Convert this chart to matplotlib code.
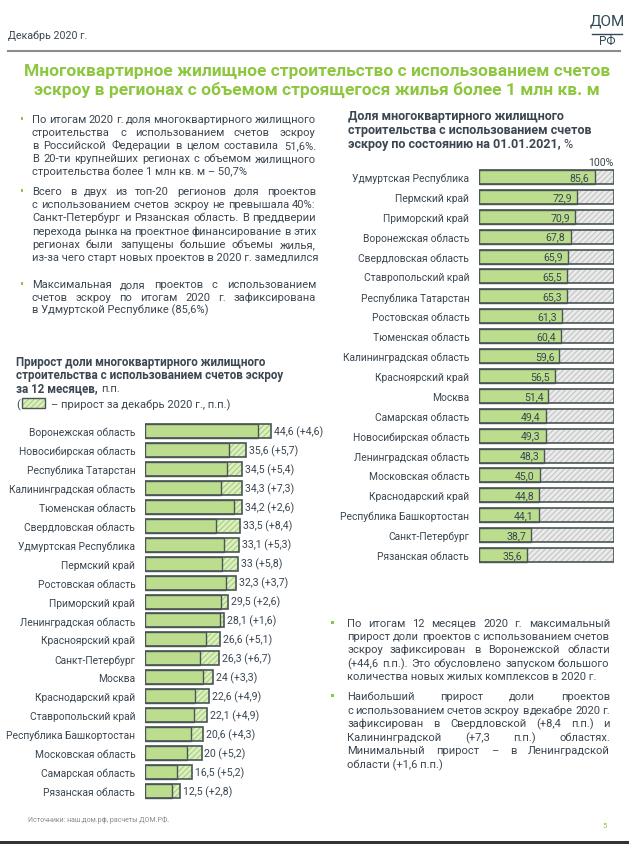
import matplotlib as m
m.use("Agg")
import matplotlib.pyplot as plt
from matplotlib.patches import Rectangle

plt.rcParams['font.family'] = ['Roboto', 'DejaVu Sans']
plt.rcParams['hatch.linewidth'] = 0.8

# share of escrow construction on 01.01.2021, %
share_regions = ["Удмуртская Республика", "Пермский край", "Приморский край",
                 "Воронежская область", "Свердловская область", "Ставропольский край",
                 "Республика Татарстан", "Ростовская область", "Тюменская область",
                 "Калининградская область", "Красноярский край", "Москва",
                 "Самарская область", "Новосибирская область", "Ленинградская область",
                 "Московская область", "Краснодарский край", "Республика Башкортостан",
                 "Санкт-Петербург", "Рязанская область"]
share = [85.6, 72.9, 70.9, 67.8, 65.9, 65.5, 65.3, 61.3, 60.4, 59.6,
         56.5, 51.4, 49.4, 49.3, 48.3, 45.0, 44.8, 44.1, 38.7, 35.6]

# growth over 12 months, p.p. and december part
growth_regions = ["Воронежская область", "Новосибирская область", "Республика Татарстан",
                  "Калининградская область", "Тюменская область", "Свердловская область",
                  "Удмуртская Республика", "Пермский край", "Ростовская область",
                  "Приморский край", "Ленинградская область", "Красноярский край",
                  "Санкт-Петербург", "Москва", "Краснодарский край", "Ставропольский край",
                  "Республика Башкортостан", "Московская область", "Самарская область",
                  "Рязанская область"]
growth = [44.6, 35.6, 34.5, 34.3, 34.2, 33.5, 33.1, 33, 32.3, 29.5,
          28.1, 26.6, 26.3, 24, 22.6, 22.1, 20.6, 20, 16.5, 12.5]
growth_dec = [4.6, 5.7, 5.4, 7.3, 2.6, 8.4, 5.3, 5.8, 3.7, 2.6,
              1.6, 5.1, 6.7, 3.3, 4.9, 4.9, 4.3, 5.2, 5.2, 2.8]

W, H = 629, 845
GREEN = '#8dc63f'
BAR = '#bcdd8e'
EDGE = '#4a5656'
TXT = '#3b4650'
FS = 8.0     # bullet text
LS = 7.4     # category labels
VS = 7.6     # value labels

fig = plt.figure(figsize=(W / 100, H / 100), dpi=100)
renderer = fig.canvas.get_renderer()


def fx(px):
    return px / W


def fy(py):
    return 1 - py / H


def ftext(x, y, s, fontsize=FS, **kw):
    # y is the visual middle of the line; draw on the (whole pixel) baseline below it
    kw.setdefault('color', TXT)
    yb = round(y + 0.36 * fontsize * 100 / 72)
    return fig.text(fx(x), fy(yb), s, fontsize=fontsize, va='baseline', **kw)


def width(t):
    return t.get_window_extent(renderer).width


def para(lines, x0, x1, y0, dy, size, bx):
    fig.patches.append(Rectangle((fx(bx - 1.5), fy(y0 + 1.5)), 3 / W, 3 / H,
                                 transform=fig.transFigure, color=GREEN, lw=0))
    for i, line in enumerate(lines):
        y = y0 + i * dy
        if i == len(lines) - 1:
            ftext(x0, y, line, fontsize=size)
            continue
        # justified line: place word by word
        words = line.split()
        ts = [ftext(0, y, w, fontsize=size) for w in words]
        ws = [width(t) for t in ts]
        gap = (x1 - x0 - sum(ws)) / (len(words) - 1)
        x = x0
        for t, w in zip(ts, ws):
            t.set_x(fx(round(x)))
            x += w + gap


# header
ftext(8, 35, "Декабрь 2020 г.", fontsize=7.7)
fig.add_artist(plt.Line2D([fx(8), fx(620)], [fy(52), fy(52)], color='#8c8c8c', lw=1.5))
ftext(607, 21, "ДОМ", fontsize=11, ha='center', color='#2f4b55')
fig.add_artist(plt.Line2D([fx(592), fx(622)], [fy(35), fy(35)], color='#2f4b55', lw=1))
ftext(607, 41, "РФ", fontsize=8.5, ha='center', color='#2f4b55')
ftext(317, 70, "Многоквартирное жилищное строительство с использованием счетов",
      fontsize=12.5, ha='center', color=GREEN, fontweight='bold')
ftext(317, 89, "эскроу в регионах с объемом строящегося жилья более 1 млн кв. м",
      fontsize=12.5, ha='center', color=GREEN, fontweight='bold')

# left bullets
para(["По итогам 2020 г. доля многоквартирного жилищного",
      "строительства с использованием счетов эскроу",
      "в Российской Федерации в целом составила 51,6%.",
      "В 20-ти крупнейших регионах с объемом жилищного",
      "строительства более 1 млн кв. м – 50,7%"], 32, 316, 119, 12.9, FS, 22)
para(["Всего в двух из топ-20 регионов доля проектов",
      "с использованием счетов эскроу не превышала 40%:",
      "Санкт-Петербург и Рязанская область. В преддверии",
      "перехода рынка на проектное финансирование в этих",
      "регионах были запущены большие объемы жилья,",
      "из-за чего старт новых проектов в 2020 г. замедлился"], 32, 316, 191, 13.2, FS, 22)
para(["Максимальная доля проектов с использованием",
      "счетов эскроу по итогам 2020 г. зафиксирована",
      "в Удмуртской Республике (85,6%)"], 32, 316, 284, 12.6, FS, 22)

# right bullets
para(["По итогам 12 месяцев 2020 г. максимальный",
      "прирост доли проектов с использованием счетов",
      "эскроу зафиксирован в Воронежской области",
      "(+44,6 п.п.). Это обусловлено запуском большого",
      "количества новых жилых комплексов в 2020 г."], 347, 610, 623, 13.2, FS, 332)
para(["Наибольший прирост доли проектов",
      "с использованием счетов эскроу в декабре 2020 г.",
      "зафиксирован в Свердловской (+8,4 п.п.) и",
      "Калининградской (+7,3 п.п.) областях.",
      "Минимальный прирост – в Ленинградской",
      "области (+1,6 п.п.)"], 347, 610, 696, 13.6, FS, 332)

# right chart title
RT = 9.0
ftext(348, 116, "Доля многоквартирного жилищного", fontsize=RT, fontweight='bold')
ftext(348, 130, "строительства с использованием счетов", fontsize=RT, fontweight='bold')
t = ftext(348, 143, "эскроу по состоянию на 01.01.2021,", fontsize=RT, fontweight='bold')
ftext(348 + width(t) + 3, 143, "%", fontsize=RT)
ftext(614, 162, "100%", fontsize=VS, ha='right')

# right chart
ax1 = fig.add_axes([fx(479), fy(566), 135 / W, 398 / H])
ys = range(len(share))
rest = [100 - v for v in share]
ax1.barh(ys, rest, left=share, height=0.7, color='#ebebeb', edgecolor='#c4c4c4',
         lw=0, hatch='//////')
ax1.barh(ys, share, height=0.7, color=BAR, edgecolor=EDGE, lw=1)
ax1.barh(ys, [100] * len(share), height=0.7, fill=False, edgecolor=EDGE, lw=1.2)
shift_l = m.transforms.ScaledTranslation(-5 / 100, 0, fig.dpi_scale_trans)
for y, v in zip(ys, share):
    ax1.text(v, y, f"{v:.1f}".replace('.', ','), ha='right', va='center',
             fontsize=VS, color=TXT, transform=ax1.transData + shift_l)
ax1.set_xlim(0, 100)
ax1.set_ylim(19.5, -0.5)
ax1.set_yticks(list(ys))
ax1.set_yticklabels(share_regions, fontsize=LS, color=TXT)
ax1.tick_params(axis='y', length=0, pad=7)
ax1.set_xticks([])
for s in ax1.spines.values():
    s.set_visible(False)

# left chart title
LT = 8.4
ftext(16, 362, "Прирост доли многоквартирного жилищного", fontsize=LT, fontweight='bold')
ftext(16, 375, "строительства с использованием счетов эскроу", fontsize=LT, fontweight='bold')
t = ftext(16, 388, "за 12 месяцев,", fontsize=LT, fontweight='bold')
ftext(16 + width(t) + 3, 388, "п.п.", fontsize=FS)
ftext(16, 404, "(", fontsize=FS)
fig.patches.append(Rectangle((fx(22), fy(409)), 23 / W, 10 / H, transform=fig.transFigure,
                             facecolor='#dcefc0', edgecolor='#a8cf78', lw=0, hatch='//////'))
fig.patches.append(Rectangle((fx(22), fy(409)), 23 / W, 10 / H, transform=fig.transFigure,
                             fill=False, edgecolor=EDGE, lw=1))
ftext(51, 404, "– прирост за декабрь 2020 г., п.п.)", fontsize=FS)

# left chart
ax2 = fig.add_axes([fx(145), fy(801.5), 141.25 / W, 379 / H])
ys = range(len(growth))
base = [g - d for g, d in zip(growth, growth_dec)]
ax2.barh(ys, growth_dec, left=base, height=0.74, color='#dcefc0', edgecolor='#a8cf78',
         lw=0, hatch='//////')
ax2.barh(ys, base, height=0.74, color=BAR, edgecolor=EDGE, lw=1)
ax2.barh(ys, growth, height=0.74, fill=False, edgecolor=EDGE, lw=1.2)
shift_r = m.transforms.ScaledTranslation(3 / 100, 0, fig.dpi_scale_trans)
for y, g, d in zip(ys, growth, growth_dec):
    lab = f"{g:g} (+{d:g})".replace('.', ',')
    ax2.text(g, y, lab, ha='left', va='center', fontsize=VS, color=TXT,
             transform=ax2.transData + shift_r)
ax2.set_xlim(0, 50)
ax2.set_ylim(19.5, -0.5)
ax2.set_yticks(list(ys))
ax2.set_yticklabels(growth_regions, fontsize=LS, color=TXT)
ax2.tick_params(axis='y', length=0, pad=7)
ax2.set_xticks([])
for s in ax2.spines.values():
    s.set_visible(False)

# footer
ftext(28, 820, "Источники: наш.дом.рф, расчеты ДОМ.РФ.", fontsize=5, color='#8a8a8a')
ftext(602, 825, "5", fontsize=5.5, color=GREEN)
fig.patches.append(Rectangle((0, 0), 1, 3 / H, transform=fig.transFigure, color='#333333', lw=0))

fig.savefig("out.png", dpi=100)
